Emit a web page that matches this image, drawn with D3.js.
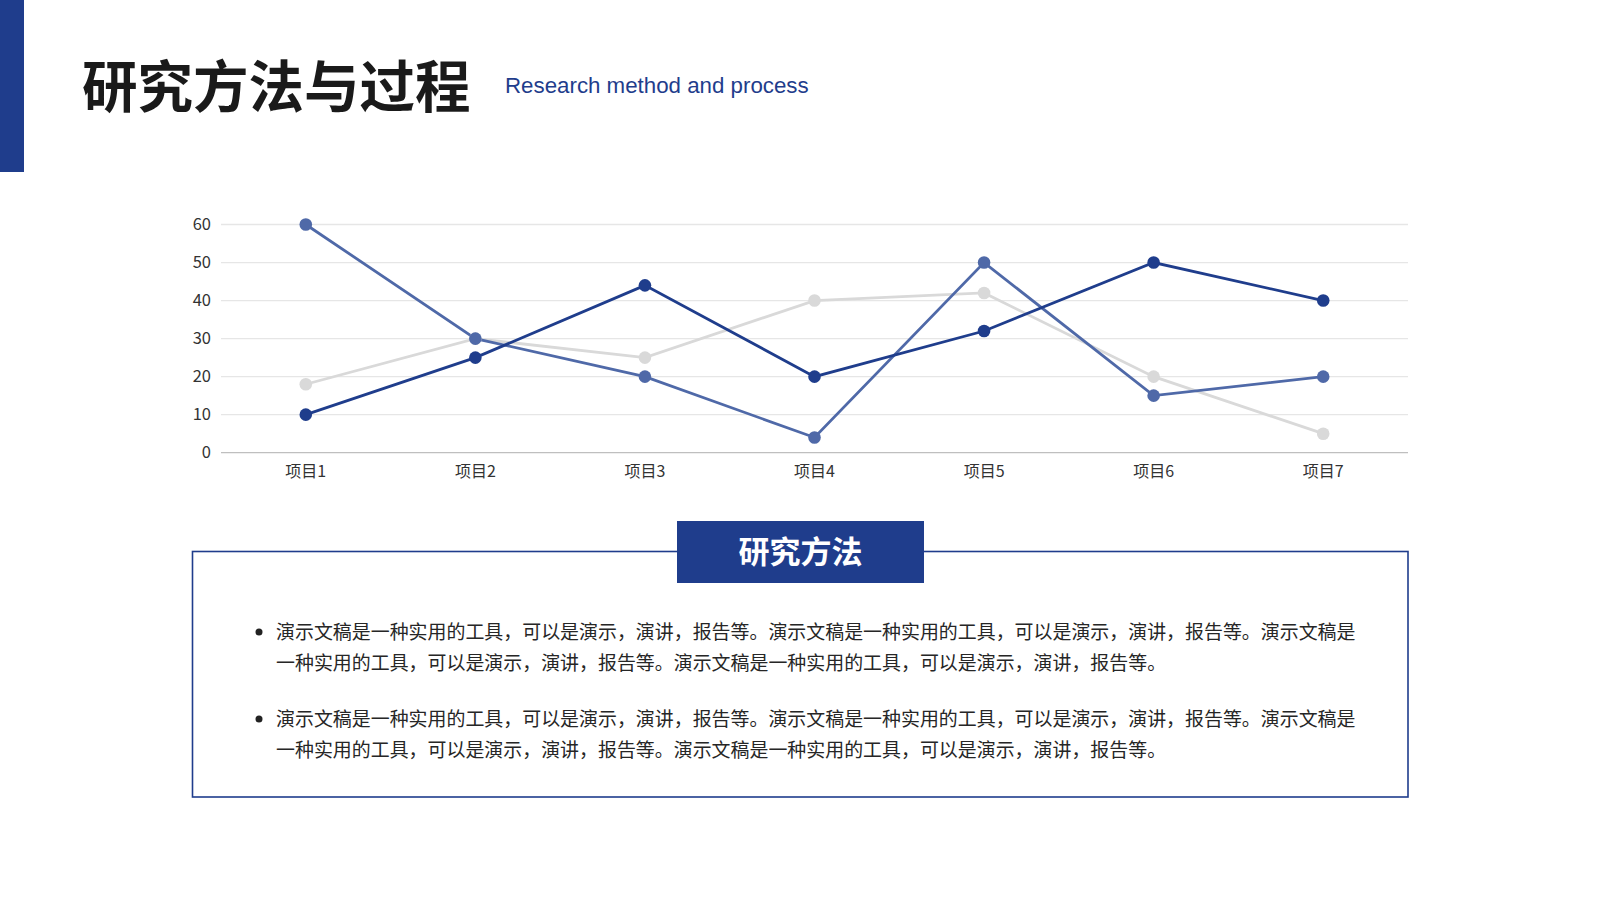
<!DOCTYPE html>
<html>
<head>
<meta charset="utf-8">
<script src="https://cdn.jsdelivr.net/npm/d3@7"></script>
<style>
  html, body { margin: 0; padding: 0; background: #fff; }
  svg { display: block; }
</style>
</head>
<body>
<svg id="slide" width="1600" height="900"></svg>
<script>
// categories and series
var categories = ["项目1", "项目2", "项目3", "项目4", "项目5", "项目6", "项目7"];
var seriesA = [10, 25, 44, 20, 32, 50, 40];   // dark navy
var seriesB = [60, 30, 20, 4, 50, 15, 20];    // mid blue
var seriesC = [18, 30, 25, 40, 42, 20, 5];    // light grey
var yTicks = [0, 10, 20, 30, 40, 50, 60];

var titleText = "研究方法与过程";
var subtitleText = "Research method and process";
var boxTitle = "研究方法";
// each bullet as its wrapped lines
var bullets = [
  ["演示文稿是一种实用的工具，可以是演示，演讲，报告等。演示文稿是一种实用的工具，可以是演示，演讲，报告等。演示文稿是",
   "一种实用的工具，可以是演示，演讲，报告等。演示文稿是一种实用的工具，可以是演示，演讲，报告等。"],
  ["演示文稿是一种实用的工具，可以是演示，演讲，报告等。演示文稿是一种实用的工具，可以是演示，演讲，报告等。演示文稿是",
   "一种实用的工具，可以是演示，演讲，报告等。演示文稿是一种实用的工具，可以是演示，演讲，报告等。"]
];

var navy = "#1f3d8c";
var cjk = "'Noto Sans CJK SC', 'Noto Sans', sans-serif";

var svg = d3.select("#slide");

// header: left bar, title, subtitle
svg.append("rect").attr("x", 0).attr("y", 0).attr("width", 24).attr("height", 172).attr("fill", navy);

svg.append("text")
  .attr("x", 82).attr("y", 107)
  .attr("font-family", cjk).attr("font-weight", 700).attr("font-size", 55.5)
  .attr("fill", "#1a1a1a")
  .text(titleText);

svg.append("text")
  .attr("x", 505).attr("y", 93)
  .attr("font-family", "'Liberation Sans', Arial, sans-serif").attr("font-size", 22.3)
  .attr("fill", navy)
  .text(subtitleText);

// chart
var x = d3.scaleBand().domain(categories).range([221, 1408]);
var y = d3.scaleLinear().domain([0, 60]).range([452.7, 224.5]);

var chart = svg.append("g");

chart.selectAll(".grid")
  .data(yTicks)
  .enter().append("line")
  .attr("class", "grid")
  .attr("x1", 221).attr("x2", 1408)
  .attr("y1", function(d){ return y(d); })
  .attr("y2", function(d){ return y(d); })
  .attr("stroke", function(d){ return d === 0 ? "#bfbfbf" : "#e6e6e6"; })
  .attr("stroke-width", 1.3);

var yAxis = chart.append("g")
  .attr("transform", "translate(211,0)")
  .call(d3.axisLeft(y).tickValues(yTicks).tickSize(0).tickPadding(0));
yAxis.select(".domain").remove();
yAxis.selectAll("text")
  .attr("font-family", cjk).attr("font-size", 16.5).attr("fill", "#333");

var xAxis = chart.append("g")
  .attr("transform", "translate(0,463)")
  .call(d3.axisBottom(x).tickSize(0).tickPadding(0));
xAxis.select(".domain").remove();
xAxis.selectAll("text")
  .attr("font-family", cjk).attr("font-size", 16).attr("fill", "#333")
  .attr("dy", "0.9em");

var series = [
  { values: seriesC, color: "#d9d9d9" },
  { values: seriesB, color: "#4f69a8" },
  { values: seriesA, color: navy }
];

var line = d3.line()
  .x(function(d, i){ return x(categories[i]) + x.bandwidth() / 2; })
  .y(function(d){ return y(d); });

series.forEach(function(s){
  chart.append("path")
    .attr("d", line(s.values))
    .attr("fill", "none")
    .attr("stroke", s.color)
    .attr("stroke-width", 2.8);
});
series.forEach(function(s){
  chart.selectAll(null)
    .data(s.values)
    .enter().append("circle")
    .attr("cx", function(d, i){ return x(categories[i]) + x.bandwidth() / 2; })
    .attr("cy", function(d){ return y(d); })
    .attr("r", 6.3)
    .attr("fill", s.color);
});

// text box
svg.append("rect")
  .attr("x", 192.5).attr("y", 551.5).attr("width", 1215.5).attr("height", 245.5)
  .attr("fill", "none").attr("stroke", navy).attr("stroke-width", 1.6);

svg.append("rect")
  .attr("x", 677).attr("y", 521).attr("width", 247).attr("height", 62)
  .attr("fill", navy);

svg.append("text")
  .attr("x", 800.5).attr("y", 563)
  .attr("text-anchor", "middle")
  .attr("font-family", cjk).attr("font-weight", 700).attr("font-size", 31)
  .attr("fill", "#fff")
  .text(boxTitle);

var lineTop = [632, 719];
bullets.forEach(function(lines, bi){
  svg.append("circle")
    .attr("cx", 259).attr("cy", lineTop[bi]).attr("r", 3.5).attr("fill", "#222");
  lines.forEach(function(t, li){
    svg.append("text")
      .attr("x", 276).attr("y", lineTop[bi] + li * 31.5)
      .attr("dy", "0.35em")
      .attr("font-family", cjk).attr("font-size", 18.95)
      .attr("fill", "#262626")
      .text(t);
  });
});
</script>
</body>
</html>
